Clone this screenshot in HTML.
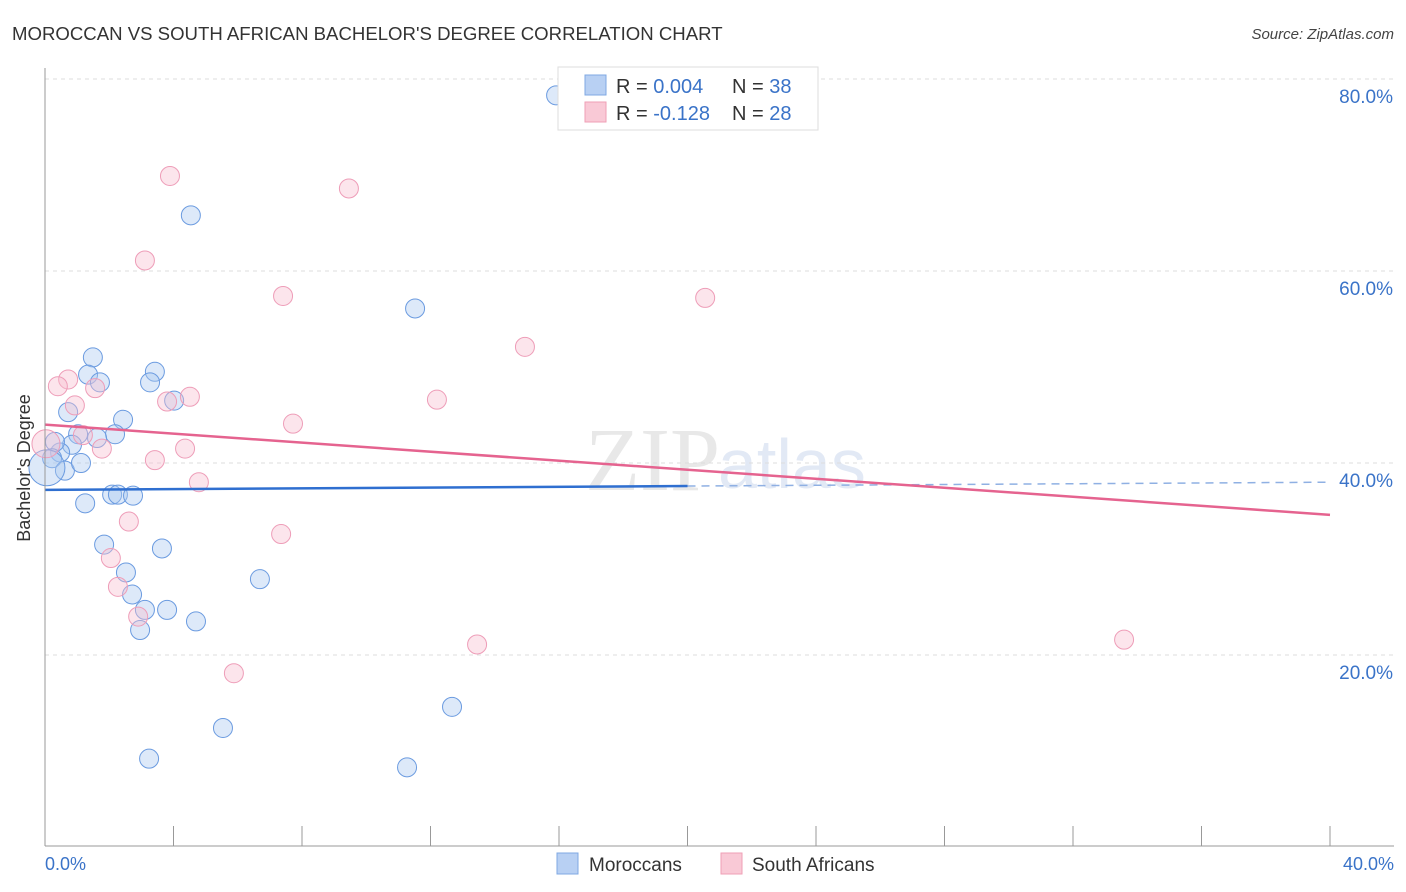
<!DOCTYPE html>
<html><head><meta charset="utf-8"><style>
body{margin:0;background:#fff;font-family:"Liberation Sans",sans-serif;}
svg{display:block}
</style></head><body>
<svg id="c" width="1406" height="892" xmlns="http://www.w3.org/2000/svg">
<text x="12" y="40" font-size="18.6" fill="#333">MOROCCAN VS SOUTH AFRICAN BACHELOR'S DEGREE CORRELATION CHART</text>
<text x="1394" y="39" font-size="15" fill="#444" font-style="italic" text-anchor="end">Source: ZipAtlas.com</text>
<text x="720" y="490" font-size="90" fill="#e8e8e8" font-family="Liberation Serif,serif" text-anchor="end">ZIP</text>
<text x="718" y="488" font-size="70" fill="#e2e9f5" text-anchor="start">atlas</text>
<g id="grid"></g><g id="marks"></g><g id="lines"></g>
<line x1="45" y1="68" x2="45" y2="846" stroke="#999"/>
<line x1="45" y1="846" x2="1394" y2="846" stroke="#999"/>
<text x="18" y="456" font-size="18" fill="#333" transform="rotate(-90 30 456)" text-anchor="middle">Bachelor's Degree</text>
<text x="45" y="870" font-size="18" fill="#3a73c8">0.0%</text>
<text x="1394" y="870" font-size="18" fill="#3a73c8" text-anchor="end">40.0%</text>
<g>
<rect x="558" y="67" width="260" height="63" fill="#fff" stroke="#ddd"/>
<rect x="585" y="75" width="21" height="20" fill="#b8d0f3" stroke="#7fa8e3"/>
<rect x="585" y="102" width="21" height="20" fill="#f9c9d6" stroke="#ef9fb6"/>
<text x="616" y="93" font-size="20" fill="#333">R = <tspan fill="#3a73c8">0.004</tspan></text>
<text x="732" y="93" font-size="20" fill="#333">N = <tspan fill="#3a73c8">38</tspan></text>
<text x="616" y="120" font-size="20" fill="#333">R = <tspan fill="#3a73c8">-0.128</tspan></text>
<text x="732" y="120" font-size="20" fill="#333">N = <tspan fill="#3a73c8">28</tspan></text>
</g>
<g>
<rect x="557" y="853" width="21" height="21" fill="#b8d0f3" stroke="#7fa8e3"/>
<text x="589" y="871" font-size="19" fill="#333">Moroccans</text>
<rect x="721" y="853" width="21" height="21" fill="#f9c9d6" stroke="#ef9fb6"/>
<text x="752" y="871" font-size="19" fill="#333">South Africans</text>
</g>
</svg>
<script>
const yTicks=[20,40,60,80];
const xTicks=[0,4,8,12,16,20,24,28,32,36,40];
const blueX=[15.91,4.54,11.52,1.49,3.42,1.34,1.71,3.27,4.02,0.72,2.43,2.18,1.03,1.62,0.84,0.47,0.31,0.22,0.62,1.12,0.06,1.25,2.09,2.27,2.74,1.84,3.64,2.52,6.69,2.71,4.70,3.11,3.80,2.96,5.54,12.67,3.24,11.27];
const blueY=[78.3,65.8,56.1,51.0,49.5,49.2,48.4,48.4,46.5,45.3,44.5,43.0,43.0,42.6,41.9,41.1,42.2,40.5,39.2,40.0,39.5,35.8,36.7,36.7,36.6,31.5,31.1,28.6,27.9,26.3,23.5,24.7,24.7,22.6,12.4,14.6,9.2,8.3];
const pinkX=[3.89,9.46,3.11,7.41,20.55,14.94,0.72,0.40,1.56,4.51,3.80,12.20,0.93,7.72,1.18,1.77,4.36,3.42,0.03,4.79,2.61,2.05,7.35,2.27,2.90,13.45,33.59,5.88];
const pinkY=[69.9,68.6,61.1,57.4,57.2,52.1,48.7,48.0,47.8,46.9,46.4,46.6,46.0,44.1,42.9,41.5,41.5,40.3,42.0,38.0,33.9,30.1,32.6,27.1,24.0,21.1,21.6,18.1];
const blueBig=[20];
const pinkBig=[18];
const blueTrend=[37.2,37.6,38.0];
const pinkTrend=[44.0,39.3,34.6];
const X=v=>45+v*1285/40, Y=v=>847-v*9.6;
const NS='http://www.w3.org/2000/svg';
function mk(t,a,p){const e=document.createElementNS(NS,t);for(const k in a)e.setAttribute(k,a[k]);p.appendChild(e);return e;}
const g=document.getElementById('grid'),svg=document.getElementById('c');
yTicks.forEach(v=>{const l=mk('line',{x1:45,x2:1394,y1:Y(v),y2:Y(v),stroke:'#ddd','stroke-dasharray':'4 4'},g);


const t=mk('text',{x:1393,y:Y(v)+24,'font-size':19,fill:'#3a73c8','text-anchor':'end'},g);t.textContent=v.toFixed(1)+'%';

});
xTicks.forEach(v=>{if(v===0)return;const l=mk('line',{x1:X(v),x2:X(v),y1:826,y2:846,stroke:'#999'},g);

});
const m=document.getElementById('marks');
blueX.forEach((v,i)=>{const c=mk('circle',{cx:X(v),cy:Y(blueY[i]),r:blueBig.includes(i)?18:9.5,fill:'rgba(170,200,240,0.4)',stroke:'#6b9be0','stroke-width':1},m);

});
pinkX.forEach((v,i)=>{const c=mk('circle',{cx:X(v),cy:Y(pinkY[i]),r:pinkBig.includes(i)?14:9.5,fill:'rgba(248,190,208,0.4)',stroke:'#ee9db8','stroke-width':1},m);

});
const L=document.getElementById('lines');
let a=mk('line',{x1:X(0),y1:Y(blueTrend[0]),x2:X(20),y2:Y(blueTrend[1]),stroke:'#2f6fd0','stroke-width':2.5},L);


a=mk('line',{x1:X(20),y1:Y(blueTrend[1]),x2:X(40),y2:Y(blueTrend[2]),stroke:'#8fb0e3','stroke-width':1.5,'stroke-dasharray':'8 6'},L);


a=mk('polyline',{points:[0,20,40].map((x,i)=>X(x)+','+Y(pinkTrend[i])).join(' '),stroke:'#e5638f','stroke-width':2.5,fill:'none'},L);


</script>
</body></html>
